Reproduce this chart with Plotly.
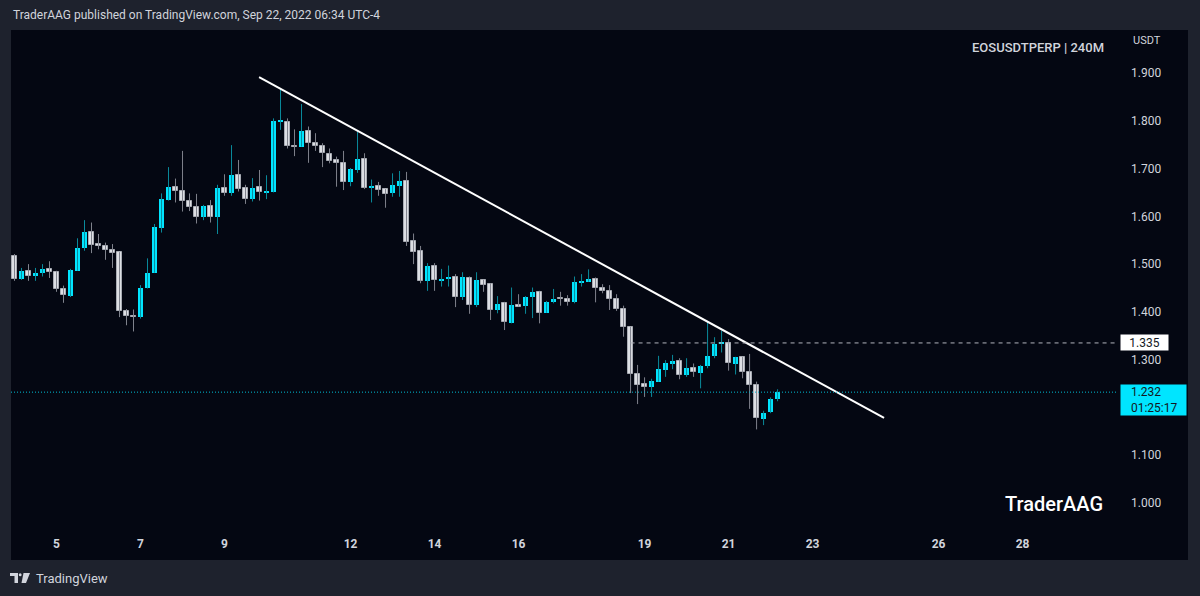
import pandas as pd
import plotly.graph_objects as go

# ---------------- data ----------------
symbol_title = "EOSUSDTPERP | 240M"
header_text = "TraderAAG published on TradingView.com, Sep 22, 2022 06:34 UTC-4"
candle_start = "2022-09-04 00:00"
candle_freq = "4h"

opens = [1.517, 1.469, 1.486, 1.477, 1.481, 1.489, 1.483, 1.447, 1.433, 1.486,
         1.533, 1.568, 1.543, 1.538, 1.529, 1.525, 1.402, 1.391, 1.390, 1.450,
         1.482, 1.575, 1.634, 1.662, 1.652, 1.633, 1.619, 1.598, 1.622, 1.599,
         1.659, 1.648, 1.687, 1.659, 1.636, 1.661, 1.650, 1.650, 1.799, 1.798,
         1.748, 1.746, 1.779, 1.753, 1.748, 1.730, 1.718, 1.711, 1.671, 1.697,
         1.720, 1.660, 1.664, 1.657, 1.649, 1.664, 1.674, 1.548, 1.527, 1.465,
         1.497, 1.465, 1.469, 1.474, 1.431, 1.470, 1.414, 1.467, 1.458, 1.404,
         1.418, 1.376, 1.414, 1.412, 1.431, 1.441, 1.398, 1.420, 1.428, 1.427,
         1.420, 1.461, 1.463, 1.469, 1.450, 1.444, 1.426, 1.407, 1.368, 1.269,
         1.249, 1.242, 1.254, 1.278, 1.291, 1.298, 1.268, 1.282, 1.273, 1.287,
         1.308, 1.334, 1.334, 1.291, 1.305, 1.274, 1.248, 1.175, 1.190, 1.218]
highs = [1.521, 1.492, 1.500, 1.492, 1.500, 1.506, 1.486, 1.455, 1.490, 1.554,
         1.592, 1.587, 1.563, 1.545, 1.542, 1.525, 1.406, 1.405, 1.456, 1.512,
         1.584, 1.648, 1.703, 1.679, 1.737, 1.648, 1.647, 1.624, 1.634, 1.666,
         1.688, 1.749, 1.718, 1.666, 1.680, 1.697, 1.686, 1.805, 1.868, 1.805,
         1.782, 1.835, 1.788, 1.774, 1.753, 1.742, 1.725, 1.737, 1.701, 1.777,
         1.732, 1.677, 1.672, 1.657, 1.690, 1.695, 1.693, 1.564, 1.538, 1.502,
         1.502, 1.490, 1.497, 1.479, 1.483, 1.474, 1.483, 1.467, 1.460, 1.433,
         1.421, 1.451, 1.437, 1.433, 1.451, 1.444, 1.423, 1.448, 1.442, 1.435,
         1.474, 1.479, 1.489, 1.472, 1.458, 1.456, 1.437, 1.413, 1.369, 1.289,
         1.263, 1.260, 1.308, 1.299, 1.310, 1.303, 1.303, 1.292, 1.289, 1.381,
         1.347, 1.361, 1.343, 1.306, 1.306, 1.312, 1.254, 1.193, 1.221, 1.238]
lows = [1.465, 1.467, 1.465, 1.465, 1.474, 1.471, 1.442, 1.419, 1.431, 1.486,
        1.528, 1.523, 1.531, 1.509, 1.492, 1.389, 1.372, 1.359, 1.386, 1.449,
        1.482, 1.566, 1.633, 1.629, 1.610, 1.611, 1.585, 1.592, 1.587, 1.563,
        1.643, 1.643, 1.652, 1.626, 1.631, 1.633, 1.636, 1.650, 1.781, 1.742,
        1.726, 1.746, 1.712, 1.737, 1.703, 1.711, 1.662, 1.655, 1.663, 1.691,
        1.657, 1.629, 1.643, 1.618, 1.641, 1.641, 1.538, 1.500, 1.460, 1.444,
        1.444, 1.453, 1.453, 1.410, 1.425, 1.396, 1.410, 1.442, 1.383, 1.397,
        1.362, 1.376, 1.411, 1.396, 1.387, 1.376, 1.398, 1.418, 1.413, 1.413,
        1.418, 1.453, 1.463, 1.420, 1.439, 1.404, 1.402, 1.348, 1.230, 1.207,
        1.222, 1.222, 1.254, 1.264, 1.280, 1.259, 1.264, 1.264, 1.240, 1.282,
        1.303, 1.315, 1.277, 1.269, 1.261, 1.197, 1.154, 1.163, 1.188, 1.213]
closes = [1.469, 1.486, 1.475, 1.481, 1.490, 1.483, 1.447, 1.435, 1.488, 1.534,
          1.568, 1.540, 1.537, 1.530, 1.523, 1.402, 1.392, 1.390, 1.449, 1.482,
          1.578, 1.636, 1.662, 1.652, 1.633, 1.619, 1.598, 1.622, 1.599, 1.659,
          1.648, 1.687, 1.657, 1.636, 1.659, 1.650, 1.652, 1.799, 1.801, 1.748,
          1.746, 1.779, 1.753, 1.747, 1.732, 1.716, 1.711, 1.671, 1.700, 1.720,
          1.659, 1.664, 1.655, 1.647, 1.666, 1.674, 1.547, 1.526, 1.465, 1.497,
          1.467, 1.469, 1.474, 1.431, 1.472, 1.414, 1.467, 1.456, 1.404, 1.416,
          1.378, 1.414, 1.411, 1.432, 1.441, 1.398, 1.421, 1.428, 1.427, 1.420,
          1.462, 1.464, 1.469, 1.449, 1.444, 1.426, 1.406, 1.369, 1.269, 1.247,
          1.242, 1.255, 1.280, 1.292, 1.297, 1.268, 1.283, 1.274, 1.287, 1.308,
          1.333, 1.335, 1.292, 1.306, 1.275, 1.248, 1.177, 1.189, 1.218, 1.232]

# downward trendline (two anchor points)
trend_x = ["2022-09-09 19:45", "2022-09-24 16:50"]
trend_y = [1.8916, 1.1779]

resistance_level = 1.335
resistance_start = "2022-09-18 16:00"
last_price = 1.232
countdown = "01:25:17"

date_tick_vals = ["2022-09-05", "2022-09-07", "2022-09-09", "2022-09-12", "2022-09-14",
                  "2022-09-16", "2022-09-19", "2022-09-21", "2022-09-23", "2022-09-26",
                  "2022-09-28"]
date_tick_text = ["5", "7", "9", "12", "14", "16", "19", "21", "23", "26", "28"]
price_tick_vals = [1.0, 1.1, 1.3, 1.4, 1.5, 1.6, 1.7, 1.8, 1.9]
price_tick_text = ["1.000", "1.100", "1.300", "1.400", "1.500", "1.600", "1.700", "1.800", "1.900"]

x_range = ["2022-09-03 22:00", "2022-09-30 06:30"]
y_range = [0.933, 1.990]

# ---------------- styling ----------------
W, H = 1200, 596
ML, MR, MT, MB = 11, 82, 30, 61
PW, PH = W - ML - MR, H - MT - MB
FRAME = "#1e222d"
BG = "#040712"
UP_BODY = "#00e5ff"
UP_WICK = "#0a8b9c"
DN_BODY = "#dddfe4"
DN_EDGE = "#a9acb4"
DN_WICK = "#7f828c"
TXT = "#d1d4dc"
FONT = "Roboto"


def px(x):
    return (x - ML) / PW


def py(y):
    return (H - MB - y) / PH


times = pd.date_range(candle_start, periods=len(opens), freq=candle_freq)
bar_ms = 4 * 3600 * 1000 * 0.7
min_body = 1.0 / 470.0


def wicks(is_up):
    xs, ys = [], []
    for t, o, h, l, c in zip(times, opens, highs, lows, closes):
        if (c >= o) == is_up:
            xs += [t, t, None]
            ys += [l, h, None]
    return xs, ys


def bodies(is_up):
    xs, base, size = [], [], []
    for t, o, c in zip(times, opens, closes):
        if (c >= o) == is_up:
            lo, hi = min(o, c), max(o, c)
            if hi - lo < min_body:
                mid = (hi + lo) / 2
                lo, hi = mid - min_body / 2, mid + min_body / 2
            xs.append(t)
            base.append(lo)
            size.append(hi - lo)
    return xs, base, size


fig = go.Figure()

for is_up, col in [(True, UP_WICK), (False, DN_WICK)]:
    wx, wy = wicks(is_up)
    fig.add_trace(go.Scatter(x=wx, y=wy, mode="lines", line=dict(color=col, width=1),
                             hoverinfo="skip", showlegend=False))

ux, ub, us = bodies(True)
fig.add_trace(go.Bar(x=ux, y=us, base=ub, width=bar_ms, marker=dict(color=UP_BODY, line=dict(width=0)),
                     showlegend=False))
dx, db, ds = bodies(False)
fig.add_trace(go.Bar(x=dx, y=ds, base=db, width=bar_ms,
                     marker=dict(color=DN_BODY, line=dict(color=DN_EDGE, width=1)),
                     showlegend=False))

fig.add_trace(go.Scatter(x=pd.to_datetime(trend_x), y=trend_y, mode="lines",
                         line=dict(color="#ffffff", width=2), hoverinfo="skip", showlegend=False))

shapes = [
    dict(type="rect", xref="paper", yref="paper", x0=px(ML), x1=px(1188), y0=py(560), y1=py(MT),
         fillcolor=BG, line=dict(width=0), layer="below"),
    dict(type="line", xref="paper", yref="y", x0=0, x1=1, y0=last_price, y1=last_price,
         line=dict(color="#00bcd4", width=1, dash="1px,2px")),
    dict(type="line", xref="x", yref="y", x0=resistance_start, x1=x_range[1],
         y0=resistance_level, y1=resistance_level,
         line=dict(color="#b2b5be", width=1, dash="4px,4px")),
    # TradingView logo (approximation)
    dict(type="rect", xref="paper", yref="paper", x0=px(10), x1=px(18), y0=py(576), y1=py(573),
         fillcolor=TXT, line=dict(width=0)),
    dict(type="rect", xref="paper", yref="paper", x0=px(14.5), x1=px(18), y0=py(583), y1=py(573),
         fillcolor=TXT, line=dict(width=0)),
    dict(type="circle", xref="paper", yref="paper", x0=px(18.8), x1=px(21.6), y0=py(576.2), y1=py(573.2),
         fillcolor=TXT, line=dict(width=0)),
    dict(type="path", xref="paper", yref="paper",
         path=f"M {px(23.5)} {py(573)} L {px(30)} {py(573)} L {px(26)} {py(583)} L {px(21.5)} {py(583)} Z",
         fillcolor=TXT, line=dict(width=0)),
]

annotations = [
    dict(text=header_text, xref="paper", yref="paper", x=px(11), y=py(15), xanchor="left",
         yanchor="middle", showarrow=False, font=dict(family=FONT, size=12, color=TXT)),
    dict(text="USDT", xref="paper", yref="paper", x=px(1131), y=py(40), xanchor="left",
         yanchor="middle", showarrow=False, font=dict(family=FONT, size=11, color=TXT)),
    dict(text=symbol_title, xref="paper", yref="paper", x=px(1106), y=py(47), xanchor="right",
         yanchor="middle", showarrow=False, font=dict(family=FONT, size=13, color=TXT, weight=500)),
    dict(text="TraderAAG", xref="paper", yref="paper", x=px(1105), y=py(504), xanchor="right",
         yanchor="middle", showarrow=False, font=dict(family=FONT, size=20, color="#ffffff", weight=500)),
    dict(text="TradingView", xref="paper", yref="paper", x=px(34), y=py(578), xanchor="left",
         yanchor="middle", showarrow=False, font=dict(family=FONT, size=13, color=TXT)),
    dict(text=f"{resistance_level:.3f}", xref="paper", yref="y", x=px(1120), y=resistance_level,
         xanchor="left", yanchor="middle", showarrow=False, bgcolor="#ffffff", borderpad=1,
         width=45, height=13, align="center", font=dict(family=FONT, size=12, color="#131722")),
    dict(text=f"&nbsp;&nbsp;&nbsp;{last_price:.3f}<br>&nbsp;&nbsp;&nbsp;{countdown}", xref="paper",
         yref="y", x=px(1120), y=last_price,
         xanchor="left", yanchor="top", yshift=8, showarrow=False, bgcolor=UP_BODY, borderpad=1,
         width=63, height=28, align="left", font=dict(family=FONT, size=12, color="#131722")),
]

fig.update_layout(
    width=W, height=H,
    margin=dict(l=ML, r=MR, t=MT, b=MB),
    paper_bgcolor=FRAME, plot_bgcolor=BG,
    barmode="overlay", bargap=0, showlegend=False,
    shapes=shapes, annotations=annotations,
    xaxis=dict(type="date", range=x_range, tickvals=date_tick_vals, ticktext=date_tick_text,
               showgrid=False, zeroline=False, showline=False, ticks="",
               tickfont=dict(family=FONT, size=12, color=TXT, weight="bold")),
    yaxis=dict(side="right", range=y_range, tickvals=price_tick_vals, ticktext=price_tick_text,
               showgrid=False, zeroline=False, showline=False, ticks="", ticklabelstandoff=12,
               tickfont=dict(family=FONT, size=12, color=TXT)),
)

fig.write_html("out.html")
